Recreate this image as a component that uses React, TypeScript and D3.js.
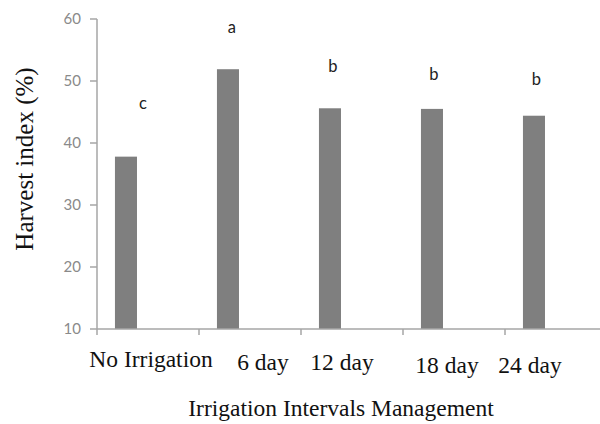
import React from "react";
import * as d3 from "d3";

const categories = ["No Irrigation", "6 day", "12 day", "18 day", "24 day"];
const harvestIndex = [37.8, 51.9, 45.6, 45.5, 44.4];
const groupLetters = ["c", "a", "b", "b", "b"];
const letterHeights = [45.5, 57.7, 51.5, 50.2, 49.4];
const yTicks = [10, 20, 30, 40, 50, 60];

// styling offsets (px) for hand-placed labels in the original
const letterShift = [17, 4, 3, 2, 2.5];
const tickLabelShift = [3, 13, -10, -7, -26];
const tickLabelDrop = [0, 3, 3, 6, 6];

const W = 600;
const H = 424;

export default function App() {
  const x = d3.scaleBand<string>().domain(categories).range([97, 607]).padding(0);
  const y = d3.scaleLinear().domain([10, 60]).range([329, 19]);
  const bw = x.bandwidth();
  const barOff = bw * 0.176;
  const barW = bw * 0.216;
  const axisColor = "#a6a6a6";

  return (
    <svg
      width={W}
      height={H}
      style={{ position: "absolute", left: 0, top: 0, background: "#fff" }}
    >
      <rect width={W} height={H} fill="#fff" />
      {/* bars */}
      {categories.map((c, i) => (
        <rect
          key={c}
          x={(x(c) as number) + barOff}
          y={y(harvestIndex[i])}
          width={barW}
          height={y(10) - y(harvestIndex[i])}
          fill="#7f7f7f"
        />
      ))}
      {/* y axis */}
      <line x1={97} x2={97} y1={y(60)} y2={y(10)} stroke={axisColor} strokeWidth={1.5} />
      {yTicks.map((t) => (
        <g key={t}>
          <line x1={90} x2={97} y1={y(t)} y2={y(t)} stroke={axisColor} strokeWidth={1.5} />
          <text
            x={81}
            y={y(t)}
            dy="0.35em"
            textAnchor="end"
            fontFamily="Lato, 'Open Sans', sans-serif"
            fontSize={15}
            fill="#8a8a8a"
          >
            {t}
          </text>
        </g>
      ))}
      {/* x axis */}
      <line x1={97} x2={W} y1={y(10)} y2={y(10)} stroke={axisColor} strokeWidth={1.5} />
      {categories.map((c) => (
        <line
          key={c}
          x1={x(c) as number}
          x2={x(c) as number}
          y1={y(10)}
          y2={y(10) + 6}
          stroke={axisColor}
          strokeWidth={1.5}
        />
      ))}
      {/* x tick labels */}
      {categories.map((c, i) => (
        <text
          key={c}
          x={(x(c) as number) + bw / 2 + tickLabelShift[i]}
          y={367 + tickLabelDrop[i]}
          textAnchor="middle"
          fontFamily="'Liberation Serif', 'Times New Roman', serif"
          fontSize={23.5}
          fill="#111"
        >
          {c}
        </text>
      ))}
      {/* significance letters */}
      {categories.map((c, i) => (
        <text
          key={c}
          x={(x(c) as number) + barOff + barW / 2 + letterShift[i]}
          y={y(letterHeights[i])}
          textAnchor="middle"
          fontFamily="Lato, 'Open Sans', sans-serif"
          fontSize={16.5}
          fill="#222"
        >
          {groupLetters[i]}
        </text>
      ))}
      {/* axis titles */}
      <text
        transform="translate(33,159) rotate(-90)"
        textAnchor="middle"
        fontFamily="'Liberation Serif', 'Times New Roman', serif"
        fontSize={25}
        fill="#111"
      >
        Harvest index (%)
      </text>
      <text
        x={341}
        y={416}
        textAnchor="middle"
        fontFamily="'Liberation Serif', 'Times New Roman', serif"
        fontSize={23.5}
        fill="#111"
      >
        Irrigation Intervals Management
      </text>
    </svg>
  );
}
